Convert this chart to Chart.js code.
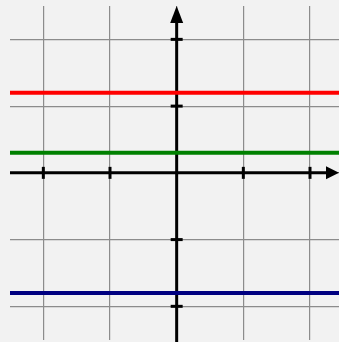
<!DOCTYPE html>
<html>
<head>
<meta charset="utf-8">
<script src="https://cdn.jsdelivr.net/npm/chart.js@4/dist/chart.umd.min.js"></script>
<style>
html,body{margin:0;padding:0;background:#f2f2f2;overflow:hidden;}
#wrap{width:339px;height:342px;position:relative;}
</style>
</head>
<body>
<div id="wrap"><canvas id="c" width="339" height="342"></canvas></div>
<script>
// Data
const lineNames = ['red line', 'green line', 'navy line'];
const lineValues = [1.2, 0.3, -1.8];
const lineColors = ['#ff0000', '#008000', '#000080'];
const xRange = [-2.5, 2.5];
const xTickValues = [-2, -1, 0, 1, 2];
const yTickValues = [-2, -1, 0, 1, 2];
const axisTickValues = [-2, -1, 1, 2];

const datasets = lineValues.map((v, i) => ({
  label: lineNames[i],
  data: xRange.map(x => ({x: x, y: v})),
  borderColor: lineColors[i],
  backgroundColor: lineColors[i],
  borderWidth: 4,
  pointRadius: 0,
  fill: false,
  borderCapStyle: 'butt'
}));

const axesPlugin = {
  id: 'axesArrows',
  beforeDatasetsDraw(chart) {
    const {ctx, chartArea, scales} = chart;
    const xs = scales.x, ys = scales.y;
    const ox = xs.getPixelForValue(0), oy = ys.getPixelForValue(0);
    ctx.save();
    ctx.strokeStyle = '#000';
    ctx.fillStyle = '#000';
    ctx.lineWidth = 3;
    // x axis
    const xEnd = chart.width;
    ctx.beginPath();
    ctx.moveTo(chartArea.left, oy);
    ctx.lineTo(xEnd - 10, oy);
    ctx.stroke();
    ctx.beginPath();
    ctx.moveTo(xEnd, oy);
    ctx.lineTo(xEnd - 13, oy - 6.5);
    ctx.lineTo(xEnd - 13, oy + 6.5);
    ctx.closePath();
    ctx.fill();
    // y axis
    const yTop = chartArea.top;
    ctx.beginPath();
    ctx.moveTo(ox, chart.height);
    ctx.lineTo(ox, yTop + 10);
    ctx.stroke();
    ctx.beginPath();
    ctx.moveTo(ox, yTop);
    ctx.lineTo(ox - 6.5, yTop + 17);
    ctx.lineTo(ox + 6.5, yTop + 17);
    ctx.closePath();
    ctx.fill();
    // tick marks
    ctx.lineWidth = 3;
    axisTickValues.forEach(v => {
      const px = xs.getPixelForValue(v);
      ctx.beginPath();
      ctx.moveTo(px, oy - 6);
      ctx.lineTo(px, oy + 6);
      ctx.stroke();
      const py = ys.getPixelForValue(v);
      ctx.beginPath();
      ctx.moveTo(ox - 6, py);
      ctx.lineTo(ox + 6, py);
      ctx.stroke();
    });
    ctx.restore();
  }
};

const bgPlugin = {
  id: 'bg',
  beforeDraw(chart) {
    const ctx = chart.ctx;
    ctx.save();
    ctx.fillStyle = '#f2f2f2';
    ctx.fillRect(0, 0, chart.width, chart.height);
    ctx.restore();
  }
};

new Chart(document.getElementById('c'), {
  type: 'line',
  data: {datasets},
  options: {
    responsive: false,
    animation: false,
    layout: {padding: {left: 10, top: 6, right: 0, bottom: 2.3}},
    plugins: {legend: {display: false}, tooltip: {enabled: false}},
    scales: {
      x: {
        type: 'linear',
        min: -2.5,
        max: 2.435,
        afterBuildTicks: s => { s.ticks = xTickValues.map(v => ({value: v})); },
        ticks: {display: false},
        grid: {color: '#8c8c8c', lineWidth: 1.2, drawTicks: false},
        border: {display: false}
      },
      y: {
        type: 'linear',
        min: -2.5,
        max: 2.5,
        afterBuildTicks: s => { s.ticks = yTickValues.map(v => ({value: v})); },
        ticks: {display: false},
        grid: {color: '#8c8c8c', lineWidth: 1.2, drawTicks: false},
        border: {display: false}
      }
    }
  },
  plugins: [bgPlugin, axesPlugin]
});
</script>
</body>
</html>
